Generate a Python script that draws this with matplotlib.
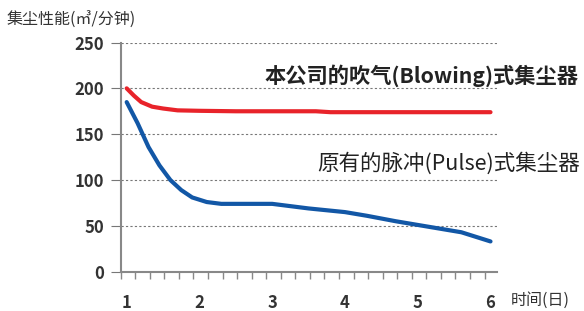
import numpy as np
import matplotlib
matplotlib.use('Agg')
from matplotlib import pyplot as plt

plt.rcParams['font.family'] = ['Noto Sans CJK SC', 'DejaVu Sans']

# values
days_blow = [1.0, 1.1, 1.2, 1.35, 1.5, 1.7, 2.0, 2.5, 3.0, 3.6, 3.8, 4.0, 6.0]
perf_blow = [200, 192, 185, 180, 178, 176, 175.5, 175, 175, 175, 174, 174, 174]

days_pulse = [1.0, 1.15, 1.3, 1.45, 1.6, 1.75, 1.9, 2.1, 2.3, 3.0, 3.5, 4.0, 4.3, 4.7, 5.0, 5.3, 5.6, 6.0]
perf_pulse = [185, 162, 136, 116, 100, 89, 81, 76, 74, 74, 69, 65, 61, 55, 51, 47, 43, 33]

yticks = [0, 50, 100, 150, 200, 250]
xticks = [1, 2, 3, 4, 5, 6]

label_blow = '本公司的吹气(Blowing)式集尘器'
label_pulse = '原有的脉冲(Pulse)式集尘器'

fig = plt.figure(figsize=(5.84, 3.11), dpi=100)
ax = fig.add_axes([0.2067, 0.1264, 0.6438, 0.7369])

ax.plot(days_blow, perf_blow, color='#e8232a', lw=3.0, solid_capstyle='round', zorder=3)
ax.plot(days_pulse, perf_pulse, color='#1257a6', lw=3.0, solid_capstyle='round', zorder=3)

ax.set_xlim(0.918, 6.085)
ax.set_ylim(0, 250)

# dotted grid
for y in yticks[1:]:
    ax.axhline(y, color='#777777', lw=0.8, ls=(0, (2, 2)), zorder=1)

for s in ['top', 'right']:
    ax.spines[s].set_visible(False)
for s in ['left', 'bottom']:
    ax.spines[s].set_color('#888888')
    ax.spines[s].set_linewidth(1.5)

ax.set_yticks(yticks)
ax.set_yticklabels([str(v) for v in yticks], fontsize=12, color='#333333', fontweight='bold')
ax.tick_params(axis='y', length=7, width=0.8, color='#777777', pad=5)

ax.set_xticks(xticks)
ax.set_xticklabels([str(v) for v in xticks], fontsize=12, color='#333333', fontweight='bold')
ax.tick_params(axis='x', which='major', length=0, pad=16)
ax.set_xticks(np.arange(0.918, 6.1, 0.2), minor=True)
ax.tick_params(axis='x', which='minor', length=5, width=1, color='#888888', direction='out')

fig.text(0.012, 0.935, '集尘性能(㎥/分钟)', fontsize=11.5, color='#333333', ha='left', va='center')
fig.text(0.874, 0.035, '时间(日)', fontsize=11.5, color='#333333', ha='left', va='center')

fig.text(0.99, 0.757, label_blow, fontsize=15.3, fontweight='bold', color='#222222',
         ha='right', va='center')
fig.text(0.993, 0.473, label_pulse, fontsize=15.5, fontweight='medium', color='#222222',
         ha='right', va='center')

plt.savefig('out.png', dpi=100)
